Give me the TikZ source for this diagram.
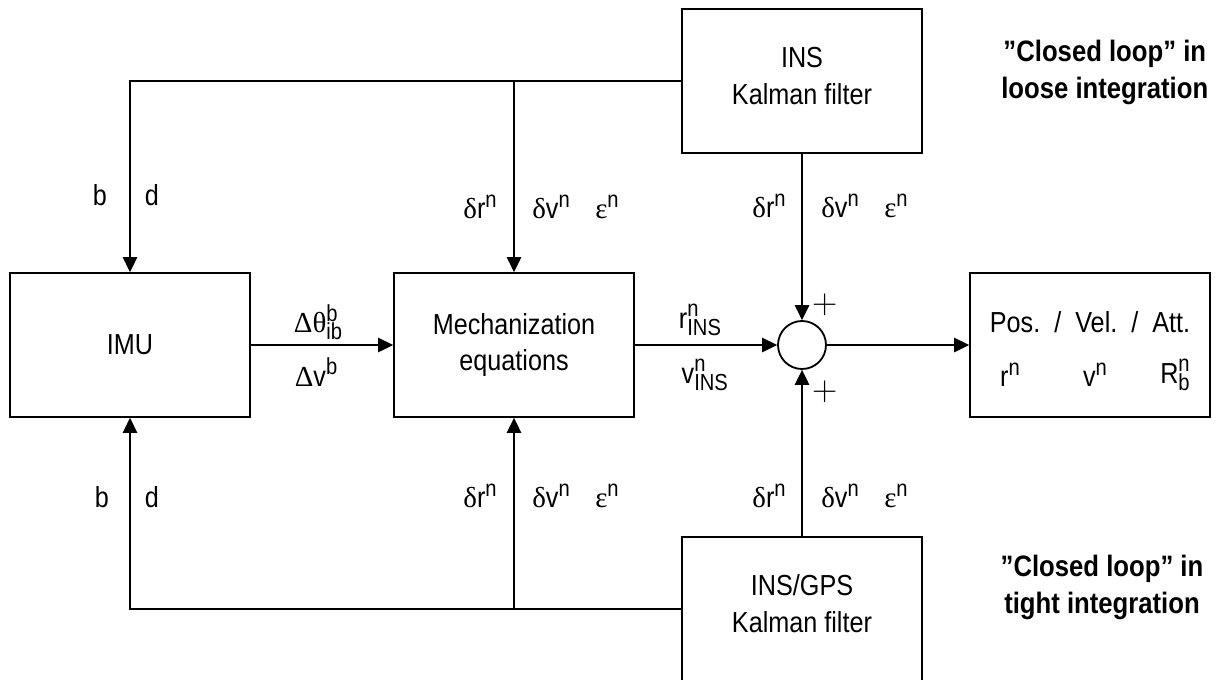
\documentclass[tikz,border=0pt]{standalone}
\usepackage{fontspec}
\setmainfont[FakeStretch=0.87]{Liberation Sans}
\newfontfamily\grk{Liberation Serif}
\usetikzlibrary{arrows.meta}

\newcommand{\sups}[1]{\raisebox{8pt}{\fontsize{16.5}{16.5}\selectfont #1}}
\newcommand{\subs}[1]{\raisebox{-5pt}{\fontsize{16.5}{16.5}\selectfont #1}}
\newcommand{\supsub}[2]{\rlap{\sups{#1}}\subs{#2}}
\newcommand{\drn}{{\grk δ}r\sups{n}}
\newcommand{\dvn}{{\grk δ}v\sups{n}}
\newcommand{\epsn}{{\grk ε}\sups{n}}

\begin{document}
\begin{tikzpicture}[
        font=\fontsize{20.6}{26.3}\selectfont,
        block/.style={
            rectangle,
            draw,
            line width=1.3pt,
            align=center,
            minimum width=6cm,
            minimum height=3.6cm,
            inner sep=0pt
        },
        sumnode/.style={
            circle,
            draw,
            line width=1.3pt,
            minimum size=1.2cm,
            inner sep=0pt
        },
        lbl/.style={inner sep=0pt},
        sign/.style={inner sep=0pt, font=\fontsize{24}{24}\selectfont},
        note/.style={
            inner sep=0pt,
            align=center,
            font=\fontsize{21}{26.3}\selectfont\bfseries
        },
        arrow/.style={-{Triangle[length=0.375cm,width=0.36cm]}, line width=1.3pt}
    ]

        \useasboundingbox (0,0) rectangle (30.5,-17);

        \node[block] (imu) at (3.25,-8.625) {IMU};
        \node[block] (mech) at (12.85,-8.625) {Mechanization\\equations};
        \node[sumnode] (sum) at (20.05,-8.625) {};
        \node[block] (pos) at (27.25,-8.625) {};
        \node[block] (inskf) at (20.05,-2.025) {INS\\Kalman filter\strut};
        \node[block] (gpskf) at (20.05,-15.225) {INS/GPS\\Kalman filter\strut};

        \node[note] (loose) at (27.62,-1.8) {”Closed loop” in\\loose integration};
        \node[note] (tight) at (27.55,-14.675) {”Closed loop” in\\tight integration};

        % feedback loops
        \draw[arrow] (inskf.west) -| (imu.north);
        \draw[arrow] (mech.north |- inskf.west) -- (mech.north);
        \draw[arrow] (gpskf.west) -| (imu.south);
        \draw[arrow] (mech.south |- gpskf.west) -- (mech.south);

        % forward path
        \draw[arrow] (imu.east) -- (mech.west);
        \draw[arrow] (mech.east) -- (sum.west);
        \draw[arrow] (sum.east) -- (pos.west);
        \draw[arrow] (inskf.south) -- (sum.north);
        \draw[arrow] (gpskf.north) -- (sum.south);

        \node[lbl] (dth) at (7.95,-8.05) {{\grk Δθ}\supsub{b}{ib}};
        \node[lbl] (dvb) at (7.9,-9.3) {{\grk Δ}v\sups{b}};
        \node[lbl] (rins) at (17.5,-8.0) {r\supsub{n}{INS}};
        \node[lbl] (vins) at (17.62,-9.375) {v\supsub{n}{INS}};
        \node[sign] (plusup) at (20.62,-7.62) {$+$};
        \node[sign] (pluslo) at (20.62,-9.8) {$+$};

        \node[lbl] (pva) at (27.25,-8.05) {Pos.\ \ /\ \ Vel.\ \ /\ \ Att.};
        \node[lbl] (rn) at (25.25,-9.375) {r\sups{n}};
        \node[lbl] (vn) at (27.375,-9.375) {v\sups{n}};
        \node[lbl] (rbn) at (29.375,-9.375) {R\supsub{n}{b}};

        \node[lbl] (bup) at (2.5,-4.875) {b};
        \node[lbl] (dup) at (3.8,-4.875) {d};
        \node[lbl] (blo) at (2.55,-12.425) {b};
        \node[lbl] (dlo) at (3.8,-12.425) {d};

        \node[lbl] (mdrup) at (12.0,-5.175) {\drn};
        \node[lbl] (mdvup) at (13.775,-5.175) {\dvn};
        \node[lbl] (mepsup) at (15.175,-5.175) {\epsn};
        \node[lbl] (mdrlo) at (12.0,-12.4) {\drn};
        \node[lbl] (mdvlo) at (13.775,-12.4) {\dvn};
        \node[lbl] (mepslo) at (15.175,-12.4) {\epsn};

        \node[lbl] (kdrup) at (19.225,-5.15) {\drn};
        \node[lbl] (kdvup) at (21.0,-5.15) {\dvn};
        \node[lbl] (kepsup) at (22.4,-5.15) {\epsn};
        \node[lbl] (kdrlo) at (19.225,-12.4) {\drn};
        \node[lbl] (kdvlo) at (21.0,-12.4) {\dvn};
        \node[lbl] (kepslo) at (22.4,-12.4) {\epsn};

    \end{tikzpicture}
\end{document}
